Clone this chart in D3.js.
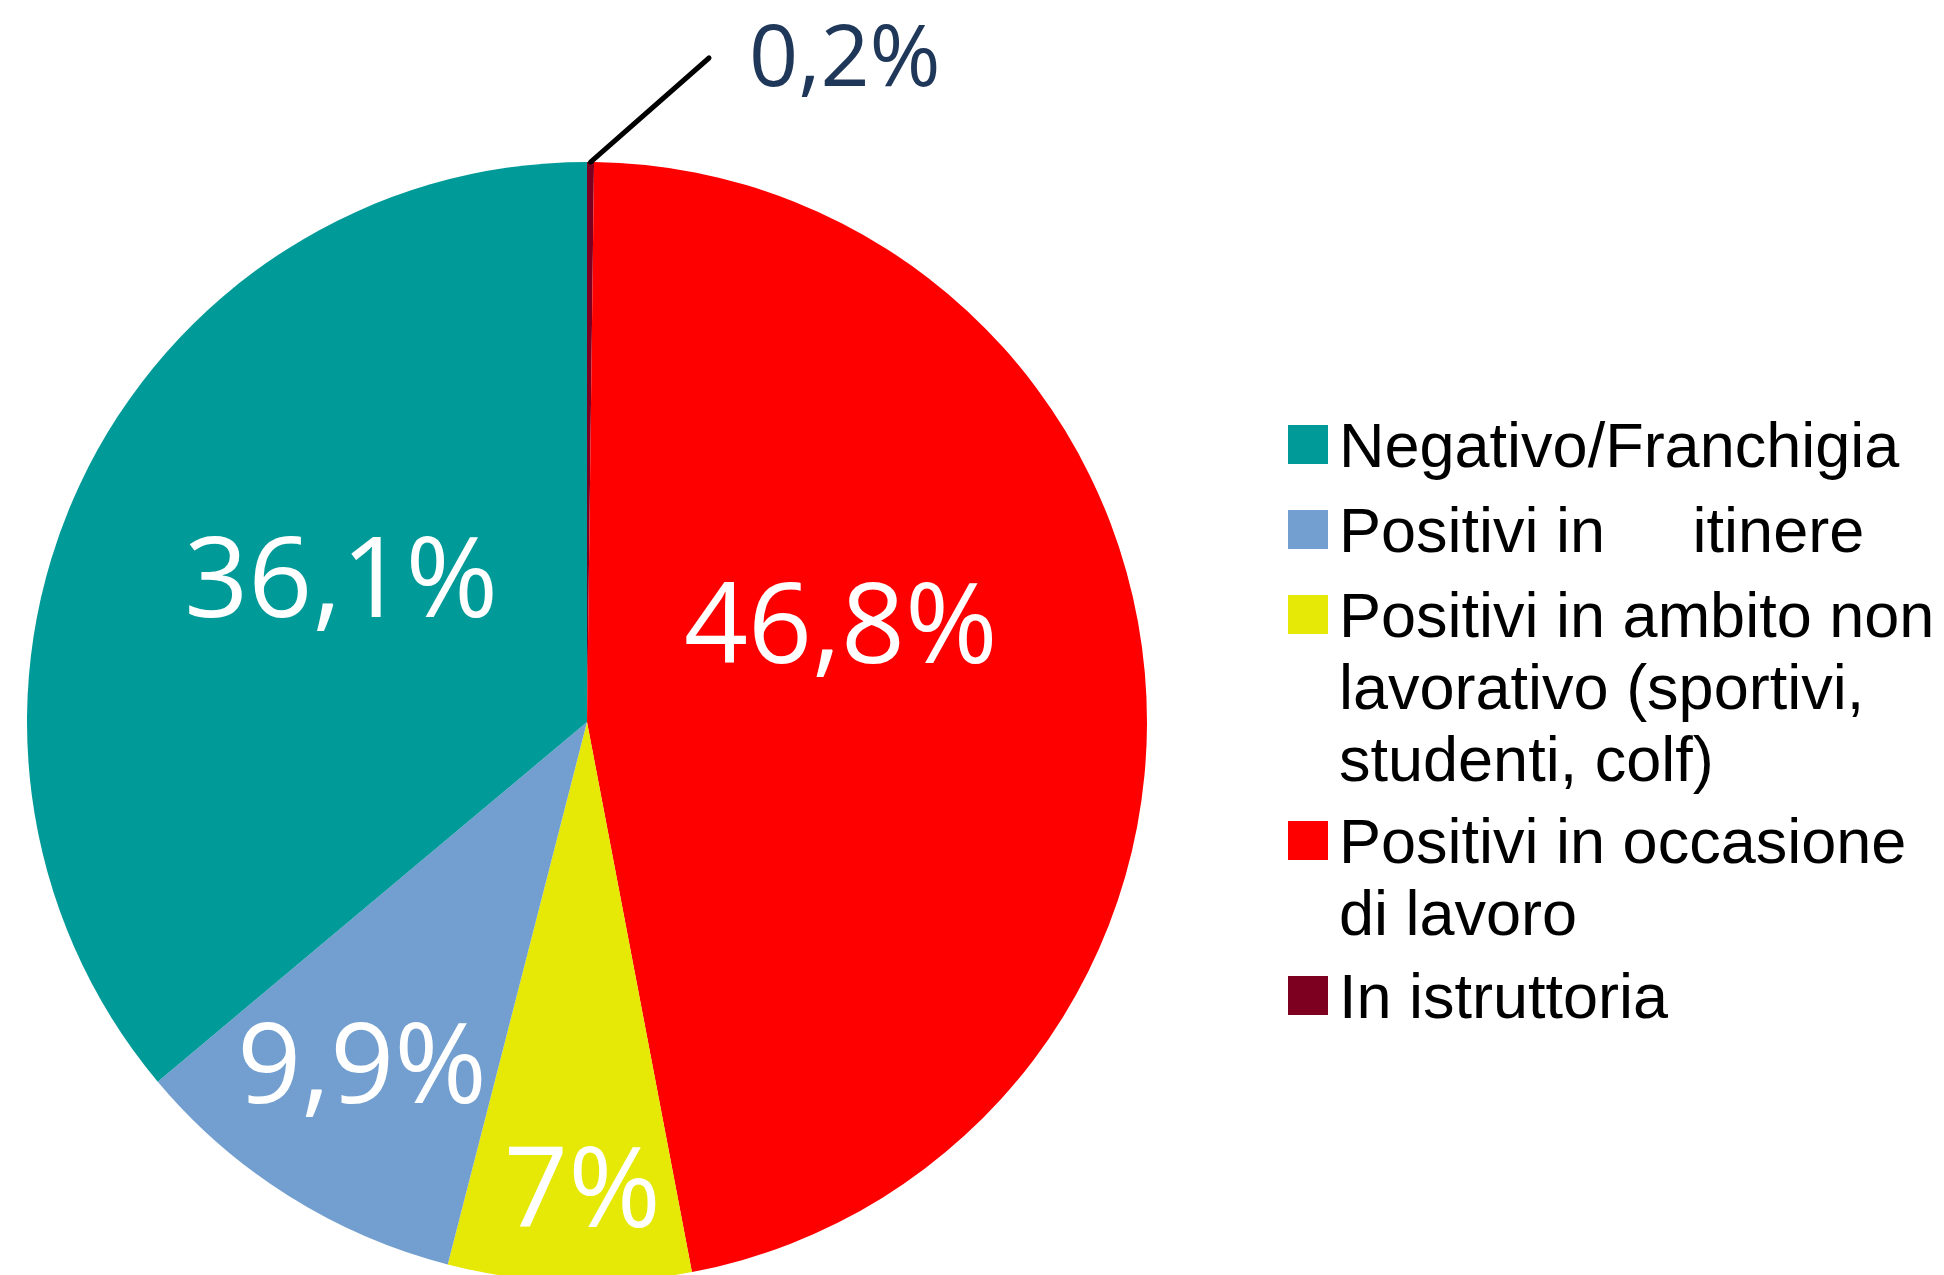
<!DOCTYPE html>
<html>
<head>
<meta charset="utf-8">
<script src="https://cdn.jsdelivr.net/npm/d3@7"></script>
<style>
  body { margin: 0; background: #fff; }
  svg { display: block; }
  .pct { font-family: "Open Sans", sans-serif; }
  .legend text { font-family: "Liberation Sans", Arial, sans-serif; white-space: pre; }
</style>
</head>
<body>
<svg id="chart" width="1944" height="1275"></svg>
<script>
// slices in drawing order, clockwise from 12 o'clock
var categories = ["In istruttoria", "Positivi in occasione di lavoro", "Positivi in ambito non lavorativo (sportivi, studenti, colf)", "Positivi in itinere", "Negativo/Franchigia"];
var values = [0.2, 46.8, 7, 9.9, 36.1];
var valueLabels = ["0,2%", "46,8%", "7%", "9,9%", "36,1%"];
var colors = ["#7e0021", "#ff0000", "#e6e905", "#729fcf", "#009a98"];
// legend lines (top to bottom), each entry points at a slice index
var legendOrder = [4, 3, 2, 1, 0];
var legendLines = [
    ["Negativo/Franchigia"],
    ["Positivi in     itinere"],
    ["Positivi in ambito non", "lavorativo (sportivi,", "studenti, colf)"],
    ["Positivi in occasione", "di lavoro"],
    ["In istruttoria"]
];

var cx = 587, cy = 722, radius = 560;
var svg = d3.select("#chart");

var pie = d3.pie().sort(null).value(function(d) { return d; });
var arcs = pie(values);
var arc = d3.arc().innerRadius(0).outerRadius(radius);

var g = svg.append("g").attr("transform", "translate(" + cx + "," + cy + ")");

g.selectAll("path.slice")
    .data(arcs)
    .enter().append("path")
    .attr("class", "slice")
    .attr("d", arc)
    .attr("fill", function(d, i) { return colors[i]; });

// label placement: radius factor and nudge per slice
var labelRadius = [1, 0.48, 0.83, 0.72, 0.52];
var labelNudge = [[0, 0], [-14, -76], [10, 0], [-10, 0], [18, -22]];

arcs.forEach(function(d, i) {
    if (i == 0) return; // small slice gets an outside label
    var a = (d.startAngle + d.endAngle) / 2;
    var r = radius * labelRadius[i];
    var x = Math.sin(a) * r + labelNudge[i][0];
    var y = -Math.cos(a) * r + labelNudge[i][1];
    g.append("text")
        .attr("class", "pct")
        .attr("x", x)
        .attr("y", y)
        .attr("dy", "0.36em")
        .attr("text-anchor", "middle")
        .attr("font-size", 112)
        .attr("fill", "#fff")
        .text(valueLabels[i]);
});

// outside label for the tiny slice with a leader line
var small = arcs[0];
var sa = (small.startAngle + small.endAngle) / 2;
var p0 = [Math.sin(sa) * radius, -Math.cos(sa) * radius];
var p1 = [709 - cx, 58 - cy];
g.append("line")
    .attr("x1", p0[0]).attr("y1", p0[1])
    .attr("x2", p1[0]).attr("y2", p1[1])
    .attr("stroke", "#000")
    .attr("stroke-width", 5)
    .attr("stroke-linecap", "round");
g.append("text")
    .attr("class", "pct")
    .attr("x", p1[0] + 40)
    .attr("y", 86 - cy)
    .attr("font-size", 86)
    .attr("fill", "#1f3758")
    .text(valueLabels[0]);

// legend
var legend = svg.append("g").attr("class", "legend").attr("transform", "translate(1288,0)");
var baselines = [467, 552, 637, 863, 1018];
var lineStep = 72;
legendOrder.forEach(function(si, k) {
    var item = legend.append("g");
    item.append("rect")
        .attr("x", 0)
        .attr("y", baselines[k] - 42)
        .attr("width", 40)
        .attr("height", 39)
        .attr("fill", colors[si]);
    var t = item.append("text")
        .attr("x", 51)
        .attr("y", baselines[k])
        .attr("font-size", 63)
        .attr("fill", "#000");
    legendLines[k].forEach(function(line, j) {
        t.append("tspan")
            .attr("x", 51)
            .attr("dy", j == 0 ? 0 : lineStep)
            .text(line);
    });
});
</script>
</body>
</html>
